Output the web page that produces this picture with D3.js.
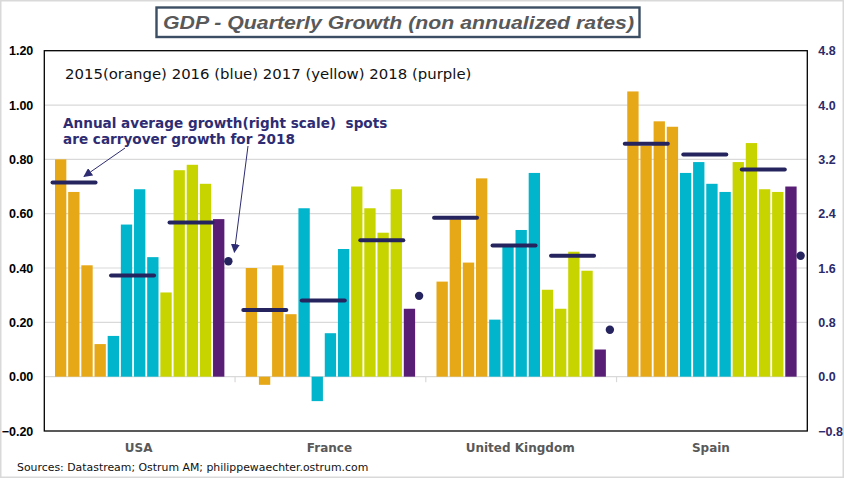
<!DOCTYPE html>
<html>
<head>
<meta charset="utf-8">
<script src="https://cdn.jsdelivr.net/npm/d3@7"></script>
<style>
  html, body { margin: 0; padding: 0; background: #fff; }
  svg { display: block; }
</style>
</head>
<body>
<svg id="chart" width="844" height="478"></svg>
<script>
// ---------------- DATA ----------------
const countries = ["USA", "France", "United Kingdom", "Spain"];
// quarterly growth (left scale), Q1..Q4 per country
const q2015 = [[0.80, 0.68, 0.41, 0.12], [0.40, -0.03, 0.41, 0.23], [0.35, 0.58, 0.42, 0.73], [1.05, 0.85, 0.94, 0.92]];
const q2016 = [[0.15, 0.56, 0.69, 0.44], [0.62, -0.09, 0.16, 0.47], [0.21, 0.48, 0.54, 0.75], [0.75, 0.79, 0.71, 0.68]];
const q2017 = [[0.31, 0.76, 0.78, 0.71], [0.70, 0.62, 0.53, 0.69], [0.32, 0.25, 0.46, 0.39], [0.79, 0.86, 0.69, 0.68]];
const q2018 = [0.58, 0.25, 0.10, 0.70];
// annual average growth (right scale)
const years = ["2015", "2016", "2017"];
const avg2015 = [2.86, 0.98, 2.34, 3.43];
const avg2016 = [1.49, 1.12, 1.93, 3.27];
const avg2017 = [2.27, 2.01, 1.78, 3.05];
// carryover growth for 2018 (right scale)
const carry2018 = [1.70, 1.19, 0.69, 1.78];
// ticks
const leftTicks = [-0.2, 0, 0.2, 0.4, 0.6, 0.8, 1.0, 1.2];
const rightTicks = [-0.8, 0, 0.8, 1.6, 2.4, 3.2, 4.0, 4.8];

const titleText = "GDP - Quarterly Growth (non annualized rates)";
const legendText = "2015(orange) 2016 (blue) 2017 (yellow) 2018 (purple)";
const noteLines = ["Annual average growth(right scale)  spots", "are carryover growth for 2018"];
const sourceText = "Sources: Datastream; Ostrum AM; philippewaechter.ostrum.com";

// ---------------- STYLE ----------------
const C = {
  orange: "#E6A817", blue: "#00B5CC", yellow: "#C8D400", purple: "#581D74",
  navy: "#26245E", grid: "#D9D9D9", gray: "#595959"
};
const yearColors = [C.orange, C.blue, C.yellow];

const svg = d3.select("#chart");
const L = 44.3, R = 807.3, T = 50.7, B = 431;

// outer border
svg.append("rect").attr("x", 0.75).attr("y", 0.75).attr("width", 842.5).attr("height", 476.5)
  .attr("fill", "#fff").attr("stroke", "#D9D9D9").attr("stroke-width", 1.5);

// scales
const y = d3.scaleLinear().domain([-0.2, 1.2]).range([B, T]);
const yR = d3.scaleLinear().domain([-0.8, 4.8]).range([B, T]);
const x0 = d3.scaleBand().domain(countries).range([L, R]);
const x1 = d3.scaleBand().domain(d3.range(13)).range([10.7, 10.7 + 13.17 * 12.86]).paddingInner(0.14);
const xL = d3.scaleBand().domain(years).range([0.5, 0.5 + 58.5 * 3]);

// gridlines
svg.append("g").selectAll("line").data(leftTicks.filter(v => v > -0.2 && v < 1.2)).join("line")
  .attr("x1", L).attr("x2", R).attr("y1", d => y(d)).attr("y2", d => y(d))
  .attr("stroke", C.grid).attr("stroke-width", 1.2);

// category boundary ticks on zero line
svg.append("g").selectAll("line").data(countries.slice(1)).join("line")
  .attr("x1", d => x0(d)).attr("x2", d => x0(d))
  .attr("y1", y(0)).attr("y2", y(0) + 5.5)
  .attr("stroke", C.grid).attr("stroke-width", 1.2);

// bars
const barData = [];
countries.forEach((c, ci) => {
  [q2015, q2016, q2017].forEach((arr, yi) => {
    arr[ci].forEach((v, qi) => barData.push({ c, slot: yi * 4 + qi, v, color: yearColors[yi] }));
  });
  barData.push({ c, slot: 12, v: q2018[ci], color: C.purple });
});
svg.append("g").selectAll("rect").data(barData).join("rect")
  .attr("x", d => x0(d.c) + x1(d.slot))
  .attr("width", x1.bandwidth())
  .attr("y", d => y(Math.max(0, d.v)))
  .attr("height", d => Math.abs(y(d.v) - y(0)))
  .attr("fill", d => d.color);

// annual average dashes
const lineData = [];
countries.forEach((c, ci) => {
  [avg2015, avg2016, avg2017].forEach((arr, yi) => lineData.push({ c, yr: years[yi], v: arr[ci] }));
});
svg.append("g").selectAll("line").data(lineData).join("line")
  .attr("x1", d => x0(d.c) + xL(d.yr) + xL.bandwidth() / 2 - 21.5)
  .attr("x2", d => x0(d.c) + xL(d.yr) + xL.bandwidth() / 2 + 21.5)
  .attr("y1", d => yR(d.v)).attr("y2", d => yR(d.v))
  .attr("stroke", C.navy).attr("stroke-width", 4).attr("stroke-linecap", "round");

// carryover dots
const dotX = c => x0(c) + x1(12) + x1.bandwidth() + 4;
svg.append("g").selectAll("circle").data(countries).join("circle")
  .attr("cx", d => dotX(d)).attr("cy", (d, i) => yR(carry2018[i]))
  .attr("r", 4.2).attr("fill", C.navy);

// plot frame
svg.append("rect").attr("x", L).attr("y", T).attr("width", R - L).attr("height", B - T)
  .attr("fill", "none").attr("stroke", "#000").attr("stroke-width", 1.3);

// axes
const axL = d3.axisLeft(y).tickValues(leftTicks).tickFormat(d3.format(".2f")).tickSize(0).tickPadding(11);
const gL = svg.append("g").attr("transform", `translate(${L},0)`).call(axL);
gL.select(".domain").remove();
gL.selectAll("text").attr("font-family", "'Liberation Sans', Arial, sans-serif")
  .attr("font-weight", "bold").attr("font-size", 12.5).attr("fill", "#000");

const axR = d3.axisRight(yR).tickValues(rightTicks).tickFormat(d3.format(".1f")).tickSize(0).tickPadding(11);
const gR = svg.append("g").attr("transform", `translate(${R},0)`).call(axR);
gR.select(".domain").remove();
gR.selectAll("text").attr("font-family", "'Liberation Sans', Arial, sans-serif")
  .attr("font-weight", "bold").attr("font-size", 12.5).attr("fill", "#2B2A6B");

// category labels
svg.append("g").selectAll("text").data(countries).join("text")
  .attr("x", d => x0(d) + x0.bandwidth() / 2 - 1)
  .attr("y", 452)
  .attr("text-anchor", "middle")
  .attr("font-family", "'DejaVu Sans', Verdana, sans-serif")
  .attr("font-weight", "bold").attr("font-size", 12).attr("fill", C.gray)
  .text(d => d);

// title with box
const tg = svg.append("g");
tg.append("rect").attr("x", 156.5).attr("y", 7.5).attr("width", 483).attr("height", 29.5)
  .attr("fill", "#fff").attr("stroke", "#3B4E63").attr("stroke-width", 2.4);
tg.append("text").attr("x", 163).attr("y", 29)
  .attr("font-family", "'Liberation Sans', Arial, sans-serif")
  .attr("font-weight", "bold").attr("font-style", "italic").attr("font-size", 19)
  .attr("textLength", 471).attr("lengthAdjust", "spacingAndGlyphs")
  .attr("fill", "#595959").text(titleText);

// legend text
svg.append("text").attr("x", 65).attr("y", 78.5)
  .attr("font-family", "'DejaVu Sans', Verdana, sans-serif")
  .attr("font-size", 14.9).attr("fill", "#111").text(legendText);

// note
svg.append("g").selectAll("text").data(noteLines).join("text")
  .attr("x", 63).attr("y", (d, i) => 127.5 + i * 16.5)
  .attr("font-family", "'DejaVu Sans', Verdana, sans-serif")
  .attr("font-weight", "bold").attr("font-size", 13.6).attr("fill", "#2E2C72")
  .attr("xml:space", "preserve").style("white-space", "pre")
  .text(d => d);

// arrows
const defs = svg.append("defs");
defs.append("marker").attr("id", "ah").attr("viewBox", "0 0 10 10").attr("refX", 9).attr("refY", 5)
  .attr("markerWidth", 9).attr("markerHeight", 9).attr("markerUnits", "userSpaceOnUse").attr("orient", "auto")
  .append("path").attr("d", "M0,0 L10,5 L0,10 z").attr("fill", "#2E2C72");
const usa = countries[0];
const head1 = [x0(usa) + xL("2015") + xL.bandwidth() / 2 + 10, yR(avg2015[0]) - 6];
const head2 = [dotX(usa) + 6, yR(carry2018[0]) - 9];
svg.append("line").attr("x1", 125).attr("y1", 148).attr("x2", head1[0]).attr("y2", head1[1])
  .attr("stroke", "#2E2C72").attr("stroke-width", 1).attr("marker-end", "url(#ah)");
svg.append("line").attr("x1", 248).attr("y1", 146).attr("x2", head2[0]).attr("y2", head2[1])
  .attr("stroke", "#2E2C72").attr("stroke-width", 1).attr("marker-end", "url(#ah)");

// source
svg.append("text").attr("x", 17).attr("y", 471)
  .attr("font-family", "'DejaVu Sans', Verdana, sans-serif")
  .attr("font-size", 10.9).attr("fill", "#111").text(sourceText);
</script>
</body>
</html>
